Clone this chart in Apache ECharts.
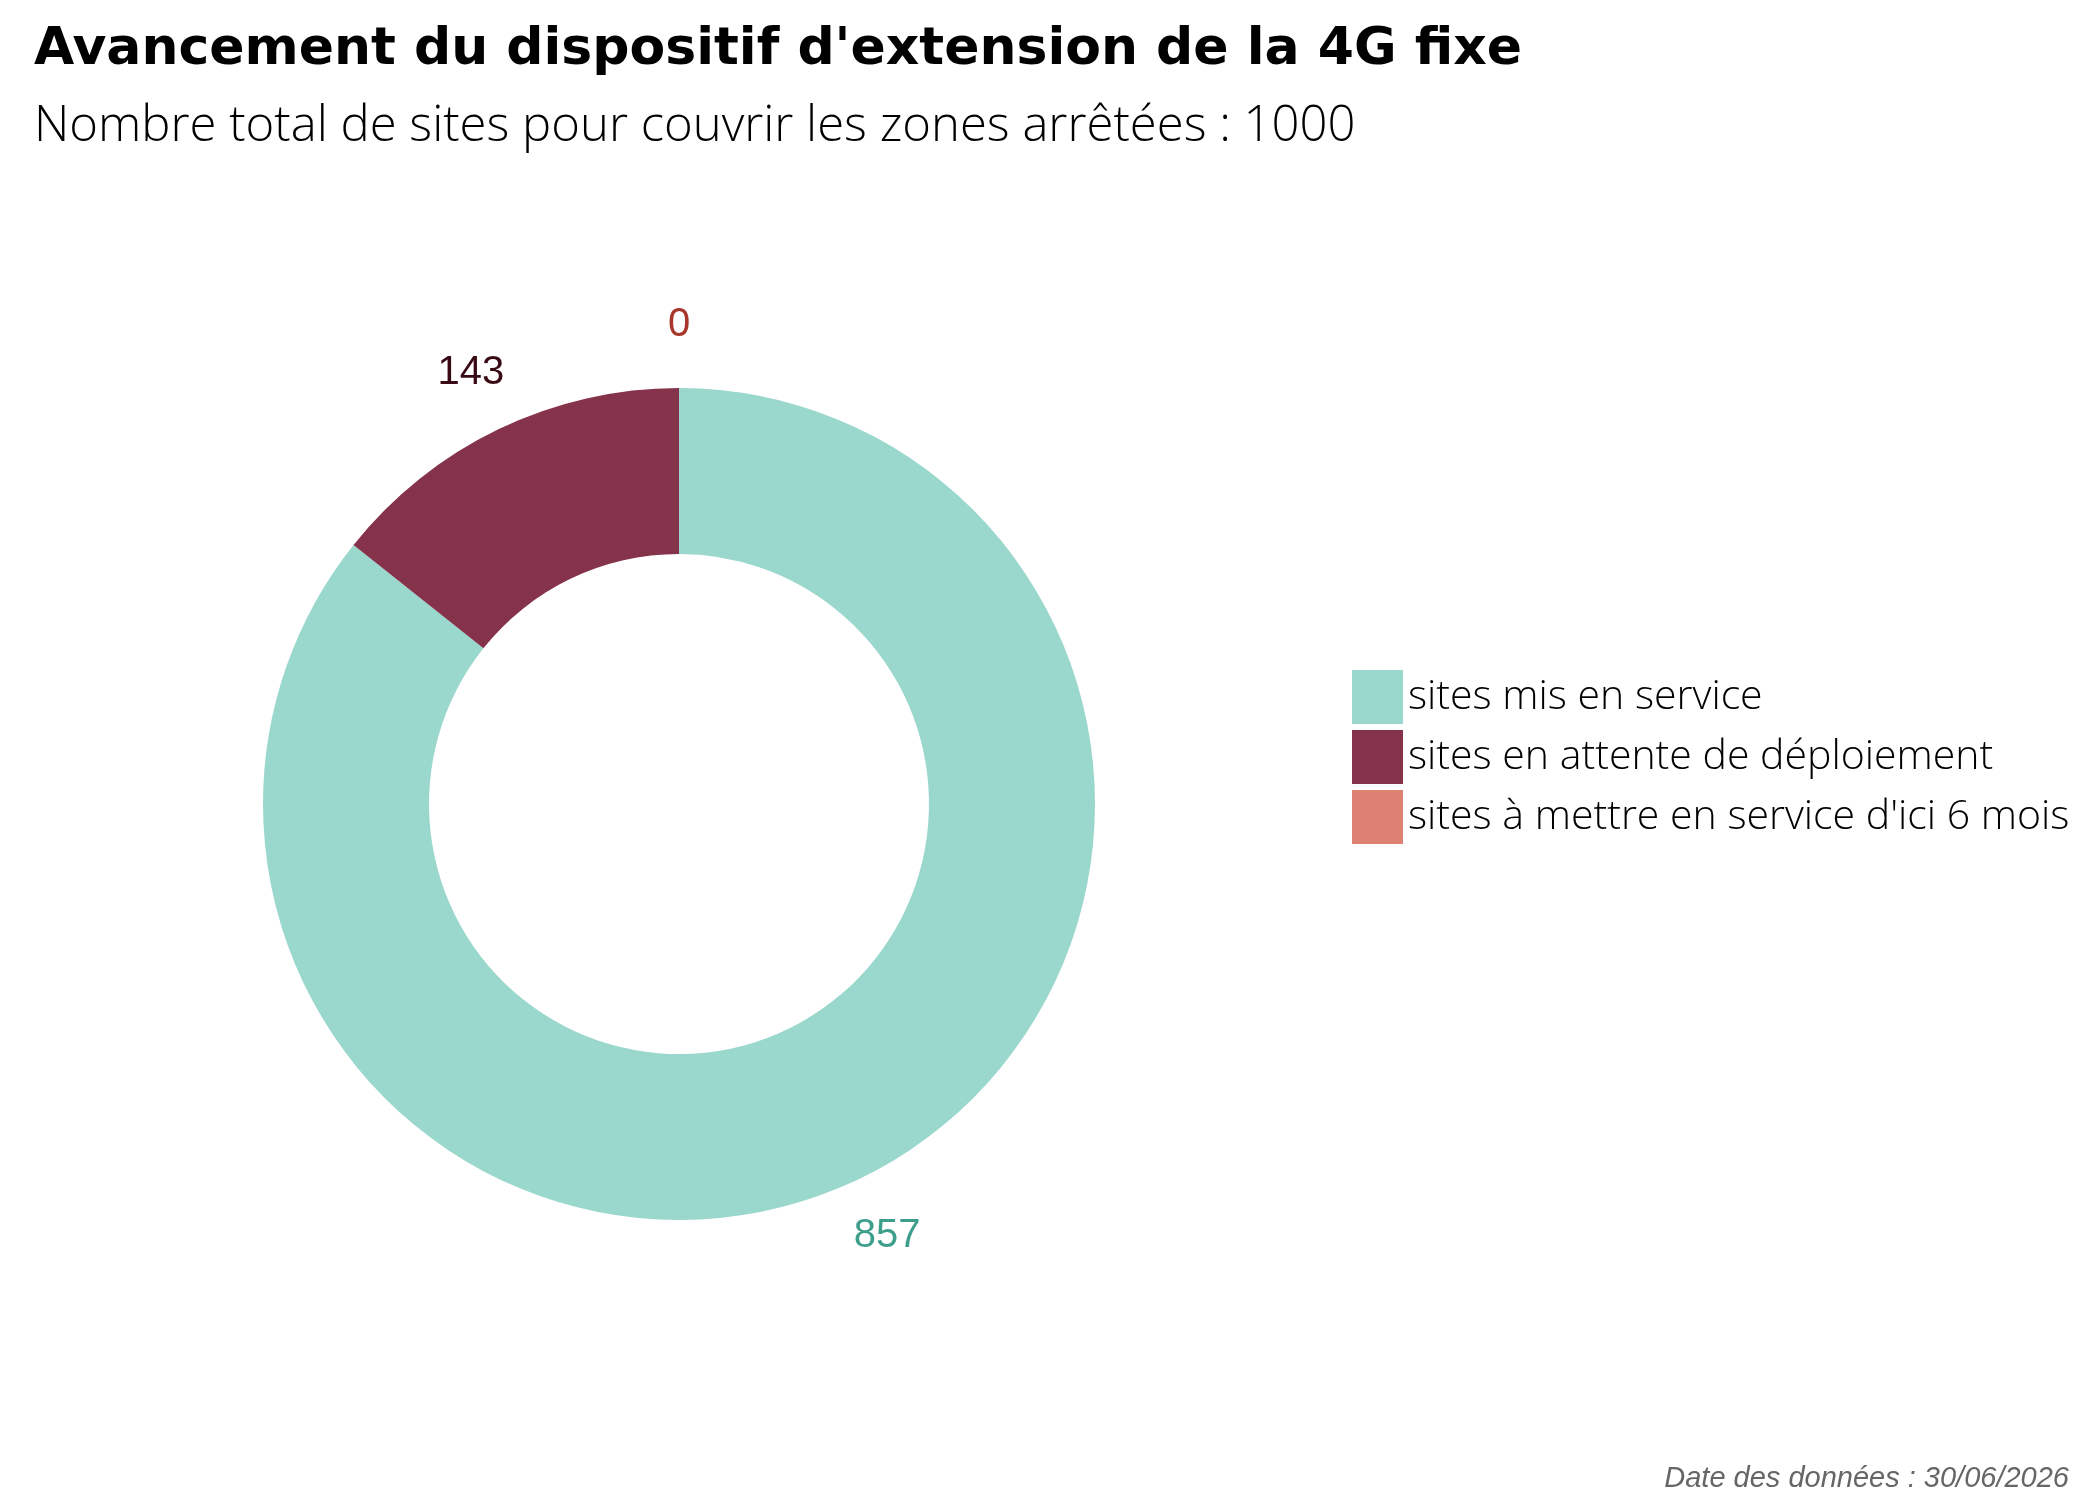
<!DOCTYPE html>
<html>
<head>
<meta charset="utf-8">
<script src="https://cdn.jsdelivr.net/npm/echarts@6/dist/echarts.min.js"></script>
<style>
  html, body { margin: 0; padding: 0; background: #fff; }
  #chart { width: 2100px; height: 1500px; }
</style>
</head>
<body>
<div id="chart"></div>
<script>
// donnees
const categories = ['sites mis en service', 'sites en attente de déploiement', "sites à mettre en service d'ici 6 mois"]
const values = [857, 143, 0]
const colors = ['#9AD7CC', '#85324B', '#DE8072']
const labelColors = ['#3E9E8C', '#3A0A14', '#A8362A']

const pieData = categories.map((name, i) => ({
  name: name,
  value: values[i],
  itemStyle: { color: colors[i] }
}))

// seconde couronne invisible, juste pour placer les etiquettes
const labelData = categories.map((name, i) => ({
  name: name,
  value: values[i],
  itemStyle: { color: 'rgba(0,0,0,0)' },
  label: { color: labelColors[i] }
}))

var myChart = echarts.init(document.getElementById('chart'))

var option = {
  backgroundColor: '#fff',
  animation: false,
  title: {
    text: "Avancement du dispositif d'extension de la 4G fixe",
    subtext: 'Nombre total de sites pour couvrir les zones arrêtées : 1000',
    left: 29,
    top: 19,
    itemGap: 27,
    textStyle: {
      fontFamily: 'DejaVu Sans',
      fontWeight: 'bold',
      fontSize: 52,
      color: '#000'
    },
    subtextStyle: {
      fontFamily: 'Open Sans',
      fontWeight: 300,
      fontSize: 49,
      color: '#000'
    }
  },
  legend: {
    orient: 'vertical',
    left: 1352,
    top: 670,
    itemWidth: 51,
    itemHeight: 54,
    itemGap: 6,
    icon: 'rect',
    padding: 0,
    selectedMode: false,
    data: categories,
    textStyle: {
      fontFamily: 'Open Sans',
      fontWeight: 300,
      fontSize: 41,
      color: '#000'
    }
  },
  graphic: [
    {
      type: 'text',
      right: 31,
      top: 1464,
      style: {
        text: 'Date des données : 30/06/2026',
        font: 'italic 29px "Liberation Sans", Arial, sans-serif',
        fill: '#666'
      }
    }
  ],
  series: [
    {
      name: 'sites',
      type: 'pie',
      center: [679, 804],
      radius: [250, 416],
      startAngle: 90,
      clockwise: true,
      silent: true,
      label: { show: false },
      labelLine: { show: false },
      data: pieData
    },
    {
      name: 'etiquettes',
      type: 'pie',
      center: [679, 804],
      radius: [456, 496],
      startAngle: 90,
      clockwise: true,
      silent: true,
      label: {
        show: true,
        position: 'inside',
        fontFamily: 'Liberation Sans',
        fontSize: 40,
        formatter: '{c}'
      },
      labelLine: { show: false },
      data: labelData
    }
  ]
}

myChart.setOption(option)
</script>
</body>
</html>
